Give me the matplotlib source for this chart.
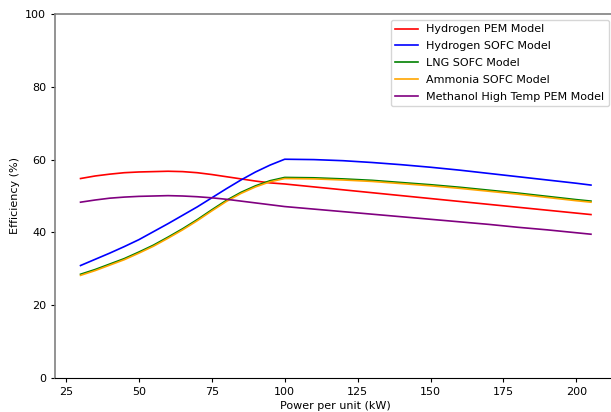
import numpy as np
from matplotlib import pyplot as plt

# power per unit (kW)
power = [30, 35, 40, 45, 50, 55, 60, 65, 70, 75, 80, 85, 90, 95, 100,
         110, 120, 130, 140, 150, 160, 170, 180, 190, 200, 205]

# efficiency (%)
h2_pem = [54.8, 55.5, 56.0, 56.4, 56.6, 56.7, 56.8, 56.7, 56.4, 55.9, 55.3, 54.7, 54.1, 53.6, 53.3,
          52.5, 51.7, 50.9, 50.1, 49.3, 48.5, 47.7, 46.9, 46.1, 45.3, 44.9]
h2_sofc = [30.9, 32.6, 34.3, 36.1, 38.0, 40.2, 42.4, 44.7, 47.0, 49.5, 52.0, 54.4, 56.6, 58.5, 60.1,
           60.0, 59.7, 59.2, 58.6, 57.9, 57.1, 56.2, 55.3, 54.4, 53.5, 53.0]
lng_sofc = [28.5, 29.8, 31.3, 32.8, 34.6, 36.5, 38.7, 41.0, 43.5, 46.2, 48.8, 51.0, 52.8, 54.2, 55.1,
            55.0, 54.7, 54.3, 53.7, 53.1, 52.4, 51.6, 50.8, 49.9, 49.0, 48.6]
nh3_sofc = [28.2, 29.5, 31.0, 32.5, 34.3, 36.2, 38.4, 40.7, 43.2, 45.9, 48.5, 50.7, 52.5, 53.9, 54.8,
            54.7, 54.4, 54.0, 53.4, 52.8, 52.1, 51.3, 50.5, 49.6, 48.7, 48.3]
meoh_htpem = [48.3, 48.9, 49.4, 49.7, 49.9, 50.0, 50.1, 50.0, 49.8, 49.5, 49.1, 48.6, 48.1, 47.6, 47.1,
              46.4, 45.7, 45.0, 44.3, 43.6, 42.9, 42.2, 41.4, 40.7, 39.9, 39.5]

labels = ['Hydrogen PEM Model', 'Hydrogen SOFC Model', 'LNG SOFC Model',
          'Ammonia SOFC Model', 'Methanol High Temp PEM Model']
colors = ['red', 'blue', 'green', 'orange', 'purple']
series = [h2_pem, h2_sofc, lng_sofc, nh3_sofc, meoh_htpem]

plt.rcParams['font.family'] = ['DejaVu Sans']
plt.rcParams['font.size'] = 8

fig = plt.figure(figsize=(6.11, 4.12), dpi=100)
# axes run a little past the right edge, as in the cropped original
ax = fig.add_axes([55 / 611, 34 / 412, 561.5 / 611, 364 / 412])

for ys, lab, c in zip(series, labels, colors):
    ax.plot(power, ys, color=c, lw=1.2, label=lab)

ax.set_ylim(0, 100)
ax.set_xticks([25, 50, 75, 100, 125, 150, 175, 200])
ax.set_xlabel('Power per unit (kW)', labelpad=3)
ax.set_ylabel('Efficiency (%)')
ax.tick_params(length=2.8, width=0.8)
ax.spines['right'].set_visible(False)
ax.spines['left'].set_color('#808080')
ax.spines['top'].set_color('#808080')
ax.spines['left'].set_linewidth(1.2)
ax.spines['top'].set_linewidth(1.2)
ax.legend(loc='upper right', bbox_to_anchor=(609 / 611, 1 - 20 / 412),
          bbox_transform=fig.transFigure, borderaxespad=0,
          fontsize=8, labelspacing=0.62)

fig.savefig('out.png', dpi=100)
